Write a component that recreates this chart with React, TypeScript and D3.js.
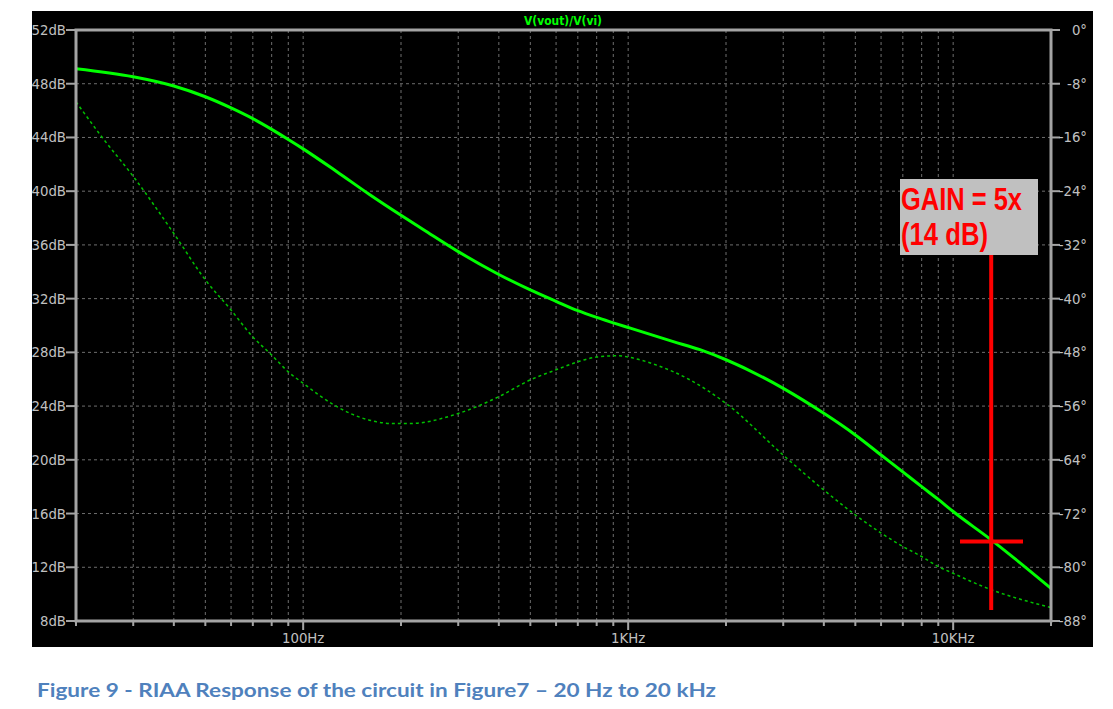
import React from "react";
import * as d3 from "d3";

// ---- data ----
const magFreqs = [20, 30, 40, 50, 60, 70, 80, 90, 100, 127, 160, 200, 234, 300, 400, 500, 600, 700, 800, 900, 1000, 1377, 1663, 2000, 3000, 4000, 5000, 6000, 7000, 8000, 9000, 10000, 13000, 20000];
const magDb = [49.12, 48.52, 47.83, 47.03, 46.2, 45.4, 44.6, 43.85, 43.15, 41.45, 39.75, 38.2, 37.15, 35.5, 33.8, 32.65, 31.8, 31.1, 30.6, 30.2, 29.85, 28.8, 28.2, 27.45, 25.32, 23.46, 21.85, 20.36, 19.1, 18.0, 17.05, 16.15, 14.1, 10.43];

const phaseFreqs = [20, 24, 30, 40, 50, 60, 70, 80, 90, 100, 124, 160, 190, 213, 300, 400, 500, 600, 700, 800, 940, 1000, 1224, 1550, 2000, 3000, 4000, 5000, 6000, 7000, 8000, 9000, 10000, 12400, 20000];
const phaseDeg = [-10.7, -15.9, -21.8, -30.3, -37.2, -41.7, -45.7, -48.4, -50.9, -52.6, -55.8, -58.1, -58.6, -58.6, -57.1, -54.6, -52.1, -50.6, -49.4, -48.7, -48.5, -48.7, -49.9, -52.1, -55.6, -63.3, -68.5, -72.2, -74.9, -76.9, -78.4, -79.9, -80.9, -82.9, -86.0];

const dbTicks = [52, 48, 44, 40, 36, 32, 28, 24, 20, 16, 12, 8];
const phaseTicks = [0, -8, -16, -24, -32, -40, -48, -56, -64, -72, -80, -88];
const majorFreqs = [100, 1000, 10000];
const majorLabels = ["100Hz", "1KHz", "10KHz"];
const minorFreqs = [20, 30, 40, 50, 60, 70, 80, 90, 200, 300, 400, 500, 600, 700, 800, 900, 2000, 3000, 4000, 5000, 6000, 7000, 8000, 9000, 20000];
const gridFreqs = [30, 40, 50, 60, 70, 80, 90, 100, 200, 300, 400, 500, 600, 700, 800, 900, 1000, 2000, 3000, 4000, 5000, 6000, 7000, 8000, 9000, 10000];

const title = "V(vout)/V(vi)";
const annotLine1 = "GAIN = 5x";
const annotLine2 = "(14 dB)";
const annotFreq = 13000;
const annotDb = 14;
const caption = "Figure 9 - RIAA Response of the circuit in Figure7 \u2013 20 Hz to 20 kHz";

export default function App() {
  const W = 1113, H = 709;
  const L = 76, R = 1051, T = 30, B = 621;
  const x = d3.scaleLog().domain([20, 20000]).range([L, R]);
  const yDb = d3.scaleLinear().domain([8, 52]).range([B, T]);
  const yPh = d3.scaleLinear().domain([-88, 0]).range([B, T]);

  const magLine = d3
    .line<number>()
    .x((_, i) => x(magFreqs[i]))
    .y((d) => yDb(d))
    .curve(d3.curveMonotoneX);
  const phLine = d3
    .line<number>()
    .x((_, i) => x(phaseFreqs[i]))
    .y((d) => yPh(d))
    .curve(d3.curveMonotoneX);

  const axisColor = "#a4a4a4";
  const gridColor = "#6e6e6e";
  const textColor = "#c0c0c0";
  const font = "'DejaVu Sans', sans-serif";
  const fs = 13.3;

  const ax = x(annotFreq);
  const ay = yDb(annotDb);

  return (
    <svg
      width={W}
      height={H}
      style={{ position: "absolute", left: 0, top: 0, background: "#fff" }}
    >
      <defs>
        <clipPath id="plotclip">
          <rect x={L} y={T} width={R - L} height={B - T} />
        </clipPath>
      </defs>
      <rect x={32} y={11} width={1061} height={636} fill="#000" />

      {/* grid */}
      {gridFreqs.map((f) => (
        <line key={"gv" + f} x1={x(f)} x2={x(f)} y1={T} y2={B} stroke={gridColor} strokeWidth={1} strokeDasharray="3,3" />
      ))}
      {dbTicks.slice(1, -1).map((d) => (
        <line key={"gh" + d} x1={L} x2={R} y1={yDb(d)} y2={yDb(d)} stroke={gridColor} strokeWidth={1} strokeDasharray="3,3" />
      ))}

      {/* curves */}
      <g clipPath="url(#plotclip)">
        <path d={phLine(phaseDeg) || ""} fill="none" stroke="#00c000" strokeWidth={1.5} strokeDasharray="3,3" />
        <path d={magLine(magDb) || ""} fill="none" stroke="#00ff00" strokeWidth={3} />
      </g>

      {/* axes frame */}
      <rect x={L} y={T} width={R - L} height={B - T} fill="none" stroke={axisColor} strokeWidth={3} />

      {/* left ticks */}
      {dbTicks.map((d) => (
        <g key={"ly" + d}>
          <line x1={66} x2={L} y1={yDb(d)} y2={yDb(d)} stroke={axisColor} strokeWidth={2} />
          <text x={66} y={yDb(d) + 5} textAnchor="end" fontFamily={font} fontSize={fs} fill={textColor}>
            {d}dB
          </text>
        </g>
      ))}

      {/* right ticks */}
      {phaseTicks.map((p) => (
        <g key={"ry" + p}>
          <line x1={R} x2={1060} y1={yPh(p)} y2={yPh(p)} stroke={axisColor} strokeWidth={2} />
          <text x={1087} y={yPh(p) + 5} textAnchor="end" fontFamily={font} fontSize={fs} fill={textColor}>
            {p}°
          </text>
        </g>
      ))}

      {/* bottom ticks */}
      {minorFreqs.map((f) => (
        <line key={"mt" + f} x1={x(f)} x2={x(f)} y1={B} y2={B + 5} stroke={axisColor} strokeWidth={2} />
      ))}
      {majorFreqs.map((f, i) => (
        <g key={"Mt" + f}>
          <line x1={x(f)} x2={x(f)} y1={B} y2={B + 9} stroke={axisColor} strokeWidth={2} />
          <text x={x(f)} y={643} textAnchor="middle" fontFamily={font} fontSize={fs} fill={textColor}>
            {majorLabels[i]}
          </text>
        </g>
      ))}

      {/* title */}
      <text x={563} y={25} textAnchor="middle" fontFamily={font} fontWeight="bold" fontSize={13} fill="#00ff00" textLength={78} lengthAdjust="spacingAndGlyphs">
        {title}
      </text>

      {/* annotation */}
      <rect x={900} y={179} width={138} height={76} fill="#c0c0c0" />
      <text x={901} y={210} fontFamily="'Liberation Sans', Arial, sans-serif" fontWeight="bold" fontSize={31} fill="#ff0000" textLength={121} lengthAdjust="spacingAndGlyphs">
        {annotLine1}
      </text>
      <text x={901} y={245} fontFamily="'Liberation Sans', Arial, sans-serif" fontWeight="bold" fontSize={31} fill="#ff0000" textLength={87} lengthAdjust="spacingAndGlyphs">
        {annotLine2}
      </text>
      <line x1={ax + 1} x2={ax + 1} y1={255} y2={610} stroke="#ff0000" strokeWidth={4} />
      <line x1={960} x2={1023} y1={ay + 1} y2={ay + 1} stroke="#ff0000" strokeWidth={4} />

      {/* caption */}
      <text x={37} y={697} fontFamily="Lato, 'Open Sans', sans-serif" fontWeight="bold" fontSize={19} fill="#4f81bd" textLength={679} lengthAdjust="spacingAndGlyphs">
        {caption}
      </text>
    </svg>
  );
}
